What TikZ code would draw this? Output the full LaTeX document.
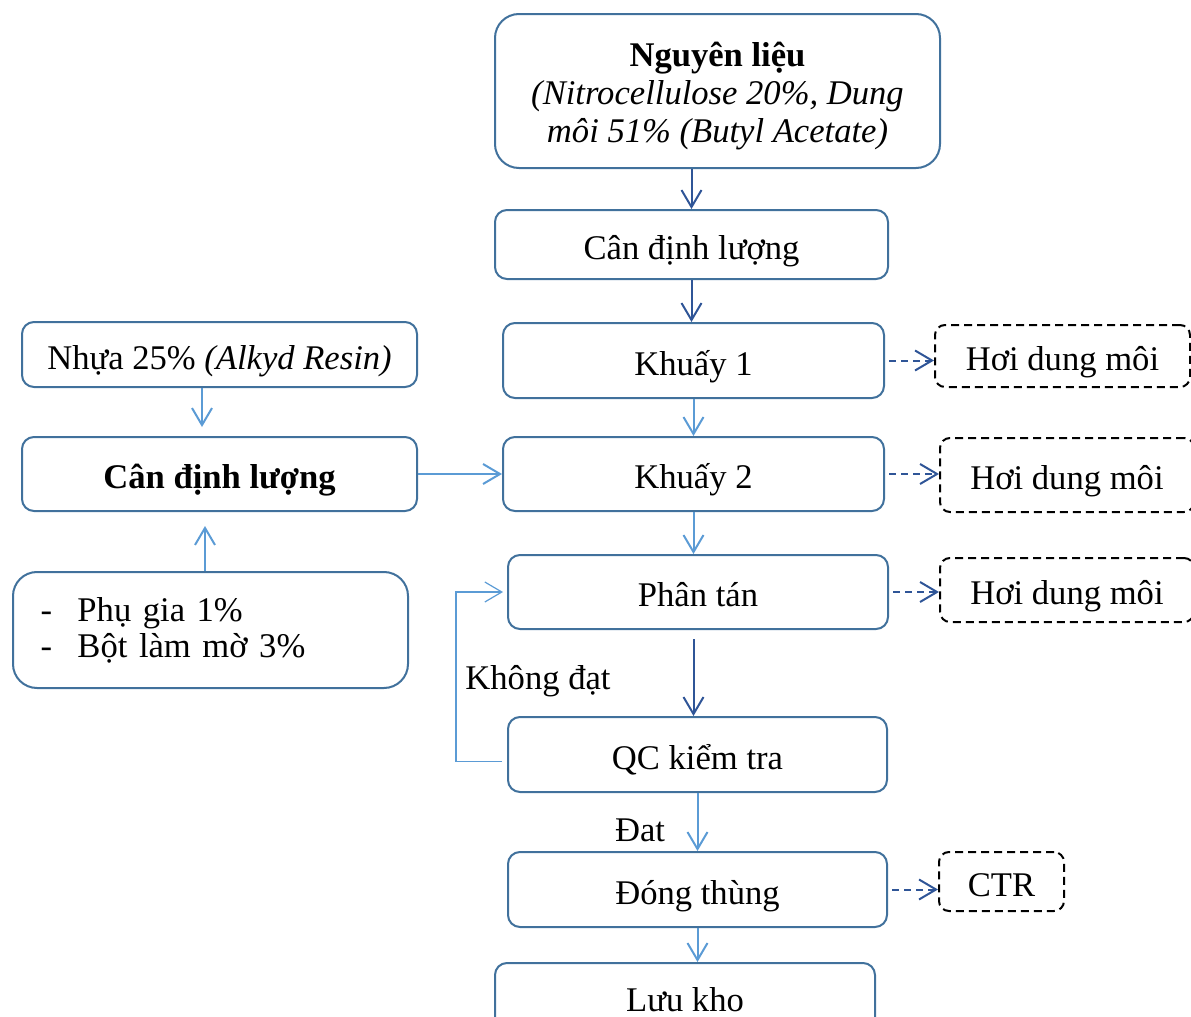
\documentclass[tikz,border=0pt]{standalone}
\usepackage{fontspec}
\setmainfont{Liberation Serif}
\usetikzlibrary{arrows.meta,calc}
\definecolor{boxblue}{RGB}{65,113,156}
\definecolor{arrowdark}{RGB}{47,85,151}
\definecolor{arrowlight}{RGB}{91,155,213}
\tikzset{
  stepbox/.style={draw=boxblue, line width=1pt, rounded corners=6pt, align=center, inner sep=0pt},
  ventbox/.style={draw=black, line width=1pt, dash pattern=on 4pt off 2.5pt, rounded corners=5pt, inner sep=0pt},
  oneline/.style={text height=18pt, text depth=3.5pt},
  darkflow/.style={draw=arrowdark, line width=1pt, -{Straight Barb[length=8.5pt,width=10pt]}},
  lightflow/.style={draw=arrowlight, line width=1pt, -{Straight Barb[length=8.5pt,width=10pt]}},
  ventflow/.style={darkflow, dash pattern=on 3.5pt off 2.5pt},
}
\begin{document}
\begin{tikzpicture}[x=0.5pt,y=0.5pt,yscale=-1,xscale=1,every node/.style={font=\fontsize{17.3}{19}\selectfont}]
  \useasboundingbox (0,0) rectangle (1191,1017);
  \clip (0,0) rectangle (1191,1017);

  %Shape: Rounded Rect (main line)
  \node[stepbox, rounded corners=12pt, minimum width=222.5pt, minimum height=77pt] (nguyenlieu) at (717.5,91)
    {\rule{0pt}{17.5pt}\textbf{Nguyên liệu}\\\textit{(Nitrocellulose 20\%, Dung}\\\textit{môi 51\% (Butyl Acetate)}};
  \node[stepbox, oneline, minimum width=196.5pt, minimum height=34.5pt] (candinh) at (691.5,244.5) {Cân định lượng};
  \node[stepbox, oneline, minimum width=190.5pt, minimum height=37.5pt] (khuay1) at (693.5,360.5) {Khuấy 1};
  \node[stepbox, oneline, minimum width=190.5pt, minimum height=37pt] (khuay2) at (693.5,474) {Khuấy 2};
  \node[stepbox, oneline, minimum width=190pt, minimum height=37pt] (phantan) at (698,592) {Phân tán};
  \node[stepbox, oneline, minimum width=189.5pt, minimum height=37.5pt] (qc) at (697.5,754.5) {QC kiểm tra};
  \node[stepbox, oneline, minimum width=189.5pt, minimum height=37.5pt] (dongthung) at (697.5,889.5) {Đóng thùng};
  \node[stepbox, oneline, minimum width=190pt, minimum height=33.5pt] (luukho) at (685,996.5) {Lưu kho};

  %Shape: Rounded Rect (left side)
  \node[stepbox, oneline, minimum width=197.5pt, minimum height=32.5pt] (nhua) at (219.5,354.5) {Nhựa 25\% \textit{(Alkyd Resin)}};
  \node[stepbox, oneline, minimum width=197.5pt, minimum height=37pt] (candinhphu) at (219.5,474) {\textbf{Cân định lượng}};
  \node[stepbox, rounded corners=12pt, minimum width=197.5pt, minimum height=58pt, text width=170pt, align=left, inner xsep=13.5pt,
        font=\fontsize{17.3}{18}\selectfont] (phugia) at (210.5,630)
    {\makebox[18.5pt][l]{-}Phụ gia 1\%\\\makebox[18.5pt][l]{-}Bột làm mờ 3\%};

  %Shape: Dashed Rect (outputs)
  \node[ventbox, oneline, minimum width=127.5pt, minimum height=31pt] (hoi1) at (1062.5,356) {Hơi dung môi};
  \node[ventbox, oneline, minimum width=127pt, minimum height=37pt] (hoi2) at (1067,475) {Hơi dung môi};
  \node[ventbox, oneline, minimum width=127pt, minimum height=32pt] (hoi3) at (1067,590) {Hơi dung môi};
  \node[ventbox, oneline, minimum width=62.5pt, minimum height=29.5pt] (ctr) at (1001.5,881.5) {CTR};

  % Text Node
  \node[oneline] (khongdat) at (538,674.5) {Không đạt};
  % Text Node
  \node[oneline] (dat) at (640,826.5) {Đat};

  %Straight Lines
  \draw[darkflow] (nguyenlieu.south -| candinh) -- (candinh);
  \draw[darkflow] (candinh) -- (candinh |- khuay1.north);
  \draw[lightflow] (khuay1) -- (khuay2);
  \draw[lightflow] (khuay2) -- (khuay2 |- phantan.north);
  \draw[darkflow, shorten <=4.5pt] (phantan.south -| khuay1) -- (khuay1 |- qc.north);
  \draw[lightflow] (qc) -- (dongthung);
  \draw[lightflow] (dongthung.south) -- (dongthung.south |- luukho.north);
  \draw[lightflow, shorten >=4.5pt] (nhua.south -| 202,0) -- (202,0 |- candinhphu.north);
  \draw[lightflow, shorten >=7pt] (phugia.north -| 205,0) -- (205,0 |- candinhphu.south);
  \draw[lightflow] (candinhphu) -- (khuay2);
  \draw[lightflow, line width=0.6pt, shorten >=2pt] ($(qc.west)+(-5,7)$) -- ++(-46,0) |- (phantan.west);

  %Dashed Lines
  \draw[ventflow, shorten <=2pt] (khuay1.east) -- (khuay1.east -| hoi1.west);
  \draw[ventflow, shorten <=2pt] (khuay2.east) -- (khuay2.east -| hoi2.west);
  \draw[ventflow, shorten <=2pt] (phantan.east) -- (phantan.east -| hoi3.west);
  \draw[ventflow, shorten <=2pt] (dongthung.east) -- (dongthung.east -| ctr.west);
\end{tikzpicture}
\end{document}
